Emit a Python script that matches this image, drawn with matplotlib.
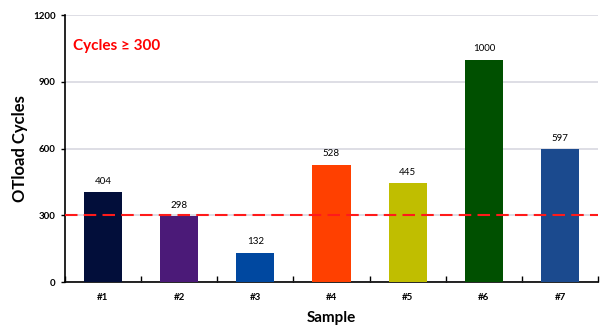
import numpy as np
import matplotlib.pyplot as plt

samples = ["#1", "#2", "#3", "#4", "#5", "#6", "#7"]
cycles = [404, 298, 132, 528, 445, 1000, 597]
bar_colors = ["#020E3A", "#4B1A78", "#0048A0", "#FF4000", "#C0BE00", "#005000", "#1B4A8E"]
threshold = 300

plt.rcParams['font.family'] = ['Lato', 'DejaVu Sans']

fig = plt.figure(figsize=(6, 3.28), dpi=100)
ax = fig.add_axes([0.108, 0.140, 0.889, 0.814])

x = np.arange(len(samples))
ax.bar(x, cycles, width=0.5, color=bar_colors, zorder=3)
for xi, v in zip(x, cycles):
    ax.text(xi, v + 28, str(v), ha='center', va='bottom', fontsize=7, zorder=4)

ax.axhline(threshold, color='#FF1A1A', linestyle=(0, (6, 3)), linewidth=1.5, zorder=4)
ax.text(0.015, 0.885, "Cycles \u2265 300", transform=ax.transAxes, color='#FF0000',
        fontsize=11, fontweight='bold', ha='left', va='center')

ax.set_xlim(-0.5, len(samples) - 0.5)
ax.set_ylim(0, 1200)
ax.set_yticks([0, 300, 600, 900, 1200])
ax.yaxis.grid(True, color='#D8D8E0', linewidth=1.2, zorder=0)
ax.set_axisbelow(True)

ax.set_xticks(x)
ax.set_xticklabels(samples, fontsize=7, fontweight='bold')
ax.set_xticks(np.arange(len(samples) + 1) - 0.5, minor=True)
ax.tick_params(axis='x', which='major', length=0, pad=8)
ax.tick_params(axis='x', which='minor', direction='in', length=4, width=1)
ax.tick_params(axis='y', labelsize=7, length=3, width=1)
for lab in ax.get_yticklabels():
    lab.set_fontweight('bold')

ax.spines['top'].set_visible(False)
ax.spines['right'].set_visible(False)
ax.spines['left'].set_linewidth(1.2)
ax.spines['bottom'].set_linewidth(1.2)

ax.set_xlabel("Sample", fontsize=11, fontweight='bold', labelpad=6)
ax.set_ylabel("OTload Cycles", fontsize=12, fontweight='bold', labelpad=4)

fig.savefig("out.png", dpi=100)
